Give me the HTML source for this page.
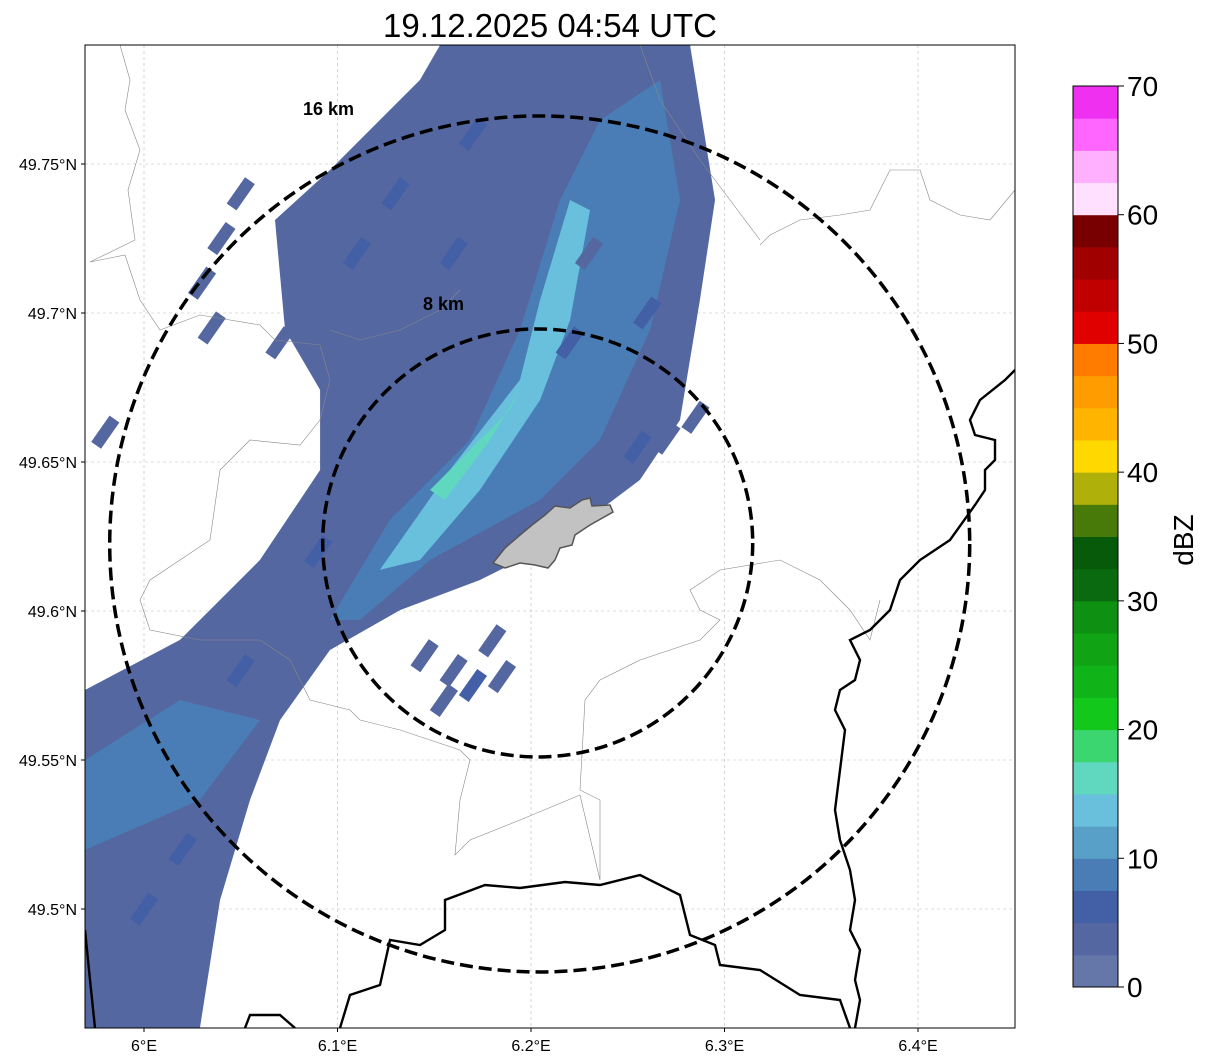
<!DOCTYPE html>
<html><head><meta charset="utf-8">
<style>
html,body{margin:0;padding:0;background:#fff;}
svg{display:block;font-family:"Liberation Sans","DejaVu Sans",sans-serif;}
</style></head>
<body>
<svg id="chart" width="1207" height="1064" viewBox="0 0 1207 1064" xmlns="http://www.w3.org/2000/svg">
<defs><clipPath id="mapclip"><rect x="85" y="45" width="930" height="983"/></clipPath></defs>
<text x="550" y="37" font-size="33" text-anchor="middle">19.12.2025 04:54 UTC</text>
<g id="map" clip-path="url(#mapclip)"></g>
<rect x="85" y="45" width="930" height="983" fill="none" stroke="#000" stroke-width="1"/>
<g id="axes"></g>
<g id="cbar"></g>
</svg>
<script>
// ---- data ----
const lonTicks = [6.0, 6.1, 6.2, 6.3, 6.4];
const lonLabels = ["6°E", "6.1°E", "6.2°E", "6.3°E", "6.4°E"];
const latTicks = [49.5, 49.55, 49.6, 49.65, 49.7, 49.75];
const latLabels = ["49.5°N", "49.55°N", "49.6°N", "49.65°N", "49.7°N", "49.75°N"];
const cbarLevels = [0,2.5,5,7.5,10,12.5,15,17.5,20,22.5,25,27.5,30,32.5,35,37.5,40,42.5,45,47.5,50,52.5,55,57.5,60,62.5,65,67.5,70];
const cbarColors = ["#6477a8","#5467a0","#4360a6","#4a7db5","#58a0c8","#68c0dc","#60d8c0","#3cd670","#12c81a","#10b418","#10a414","#0e9012","#0a6a10","#065a0a","#487a0a","#b0b00a","#ffd800","#ffb400","#ff9c00","#ff7c00","#e00000","#c00000","#a00000","#780000","#ffe0ff","#ffb0ff","#ff66ff","#f030f0"];
const cbarTicks = [0,10,20,30,40,50,60,70];
// radar echo zones: [dbz, lons, lats]
const zoneDbz = [2.5, 7.5, 7.5, 12.5, 15];
const zoneLons = [
 [5.9695,6.0186,6.0599,6.0910,6.0910,6.0729,6.0677,6.0961,6.1426,6.1530,6.2822,6.2951,6.2873,6.2770,6.2563,6.2150,6.1736,6.1323,6.0961,6.0703,6.0548,6.0393,6.0289,5.9695],
 [6.0961,6.1271,6.1684,6.1943,6.2150,6.2356,6.2667,6.2770,6.2615,6.2356,6.2047,6.1478,6.1116],
 [5.9695,6.0186,6.0599,6.0289,5.9695],
 [6.1219,6.1581,6.1943,6.2047,6.2202,6.2305,6.2202,6.2047,6.1736,6.1426],
 [6.1478,6.1684,6.1891,6.1943,6.1788,6.1555]
];
const zoneLats = [
 [49.5735,49.5903,49.6171,49.6473,49.6742,49.6943,49.7312,49.7480,49.7782,49.7899,49.7899,49.7379,49.7044,49.6641,49.6440,49.6238,49.6104,49.6003,49.5869,49.5634,49.5366,49.5030,49.4601,49.4601],
 [49.5970,49.6306,49.6574,49.6943,49.7379,49.7647,49.7782,49.7379,49.6943,49.6574,49.6373,49.6171,49.5970],
 [49.5500,49.5701,49.5634,49.5366,49.5198],
 [49.6138,49.6473,49.6776,49.7044,49.7379,49.7345,49.6976,49.6708,49.6406,49.6171],
 [49.6406,49.6540,49.6675,49.6742,49.6574,49.6373]
];
// scattered cells: lon, lat, dbz
const cellLon = [6.145,6.160,6.170,6.185,6.18,6.155,6.245,6.255,6.270,6.285,6.260,6.230,6.20,6.12,6.11,6.05,6.04,6.03,6.035,6.07,6.08,5.98,6.13,6.17,6.09,6.05,6.02,6.00,6.22,6.16];
const cellLat = [49.585,49.580,49.575,49.578,49.59,49.570,49.645,49.655,49.658,49.665,49.700,49.720,49.66,49.68,49.72,49.74,49.725,49.71,49.695,49.69,49.70,49.66,49.74,49.76,49.62,49.58,49.52,49.50,49.69,49.72];
const cellDbz = [2.5,2.5,5,2.5,2.5,2.5,2.5,5,2.5,2.5,5,2.5,7.5,2.5,5,2.5,2.5,2.5,2.5,2.5,2.5,2.5,5,5,5,5,5,5,5,5];
// map geometry
const ringKm = [16, 8];
const ringLabels = ["16 km", "8 km"];
const centerLon = 6.2045, centerLat = 49.6225;

// ---- axis functions ----
const X = lon => 144 + (lon - 6) * 1935;
const Y = lat => 611 - (lat - 49.6) * 2980;
const NS = "http://www.w3.org/2000/svg";
function mk(tag, attrs, parent){const e=document.createElementNS(NS,tag);for(const k in attrs)e.setAttribute(k,attrs[k]);parent.appendChild(e);return e;}
function colorFor(d){let i=0;while(i<cbarColors.length-1&&d>=cbarLevels[i+1])i++;return cbarColors[i];}

const map=document.getElementById('map');
lonTicks.forEach(v=>{const l=mk('line',{x1:X(v),x2:X(v),y1:45,y2:1028,stroke:'#bbb','stroke-width':0.6,'stroke-dasharray':'3,3'},map);

});
latTicks.forEach(v=>{const l=mk('line',{x1:85,x2:1015,y1:Y(v),y2:Y(v),stroke:'#bbb','stroke-width':0.6,'stroke-dasharray':'3,3'},map);

});
zoneDbz.forEach((d,i)=>{const pts=zoneLons[i].map((lo,j)=>X(lo)+','+Y(zoneLats[i][j])).join(' ');
const p=mk('polygon',{points:pts,fill:colorFor(d),stroke:'none'},map);

});
cellLon.forEach((lo,i)=>{const cx=X(lo),cy=Y(cellLat[i]);
const r=mk('rect',{x:cx-6,y:cy-16,width:12,height:32,fill:colorFor(cellDbz[i]),transform:`rotate(35 ${cx} ${cy})`},map);

});
const thin=["M120,45 L130,80 L125,110 L140,150 L128,190 L135,240 L90,262 L125,255 L140,300 L160,330 L200,315 L260,325 L275,340 L320,345 L330,380 L320,420 L300,445 L250,440 L220,470 L210,540 L180,560 L150,580 L140,600 L150,630 L200,640 L260,640 L290,660 L310,700 L350,710 L360,720 L400,730 L460,750 L470,760 L460,800 L455,855 L470,840 L520,820 L580,795 L600,880",
"M600,880 L600,800 L580,790 L585,700 L600,680 L640,660 L700,640 L720,620 L700,610 L690,590 L720,570 L780,560 L820,580 L850,610 L870,640 L880,600",
"M760,245 L770,235 L800,220 L840,215 L870,210 L880,190 L890,170 L920,170 L930,200 L960,215 L990,220 L1015,190",
"M640,45 L660,100 L700,160 L730,200 L760,240",
"M330,330 L360,340 L400,330 L440,310 L460,290"];
thin.forEach(d=>{const p=mk('path',{d:d,fill:'none',stroke:'#888','stroke-width':0.6},map);

});
const thick=["M1015,370 L1005,380 L980,400 L970,420 L975,435 L995,440 L995,460 L985,470 L985,490 L975,505 L950,540 L920,560 L900,580 L890,610 L870,630 L850,640 L860,660 L855,680 L840,690 L835,710 L845,730 L840,770 L835,810 L840,840 L850,870 L855,900 L850,930 L860,950 L855,980 L860,1000 L855,1028",
"M85,930 L90,980 L95,1028",
"M245,1028 L250,1015 L280,1015 L295,1028",
"M340,1028 L350,995 L380,985 L390,940 L420,945 L445,930 L445,900 L485,885 L520,888 L565,882 L600,885 L640,875 L680,895 L690,935 L715,945 L720,965 L760,970 L800,995 L840,1000 L850,1028"];
thick.forEach(d=>{const p=mk('path',{d:d,fill:'none',stroke:'#000','stroke-width':2.4},map);

});
const city=mk('path',{d:"M493,563 L505,548 L520,535 L532,525 L545,515 L555,506 L570,508 L582,500 L590,498 L592,506 L610,505 L613,512 L590,525 L575,535 L572,545 L560,548 L555,560 L548,568 L535,565 L520,563 L505,568 Z",fill:'#c2c2c2',stroke:'#555','stroke-width':1.5},map);


const pxPerKmX = 430/16, pxPerKmY = 428/16;
ringKm.forEach((km,i)=>{const e=mk('ellipse',{cx:X(centerLon)+(i?-2:0),cy:Y(centerLat)+(i?-1:0),rx:km*pxPerKmX,ry:km*pxPerKmY,fill:'none',stroke:'#000','stroke-width':3.5,'stroke-dasharray':'13,6'},map);


const t=mk('text',{x:i?423:303,y:i?310:115,'font-size':18,'font-weight':'bold'},map);t.textContent=ringLabels[i];

});

const ax=document.getElementById('axes');
lonTicks.forEach((v,i)=>{mk('line',{x1:X(v),x2:X(v),y1:1028,y2:1032,stroke:'#000'},ax);
const t=mk('text',{x:X(v),y:1051,'font-size':16,'text-anchor':'middle'},ax);t.textContent=lonLabels[i];

});
latTicks.forEach((v,i)=>{mk('line',{x1:81,x2:85,y1:Y(v),y2:Y(v),stroke:'#000'},ax);
const t=mk('text',{x:77,y:Y(v)+6,'font-size':16,'text-anchor':'end'},ax);t.textContent=latLabels[i];

});

const cb=document.getElementById('cbar');
const cbY=v=>987-(v/70)*901;
cbarColors.forEach((c,i)=>{const y1=cbY(cbarLevels[i+1]),y0=cbY(cbarLevels[i]);
const r=mk('rect',{x:1073,y:y1,width:45,height:y0-y1+0.5,fill:c},cb);

});
mk('rect',{x:1073,y:86,width:45,height:901,fill:'none',stroke:'#000','stroke-width':1},cb);
cbarTicks.forEach(v=>{mk('line',{x1:1118,x2:1124,y1:cbY(v),y2:cbY(v),stroke:'#000'},cb);
const t=mk('text',{x:1127,y:cbY(v)+10,'font-size':28},cb);t.textContent=v;

});
const lab=mk('text',{x:1193,y:540,'font-size':28,'text-anchor':'middle',transform:'rotate(-90 1193 540)'},cb);lab.textContent='dBZ';


</script>
</body></html>
